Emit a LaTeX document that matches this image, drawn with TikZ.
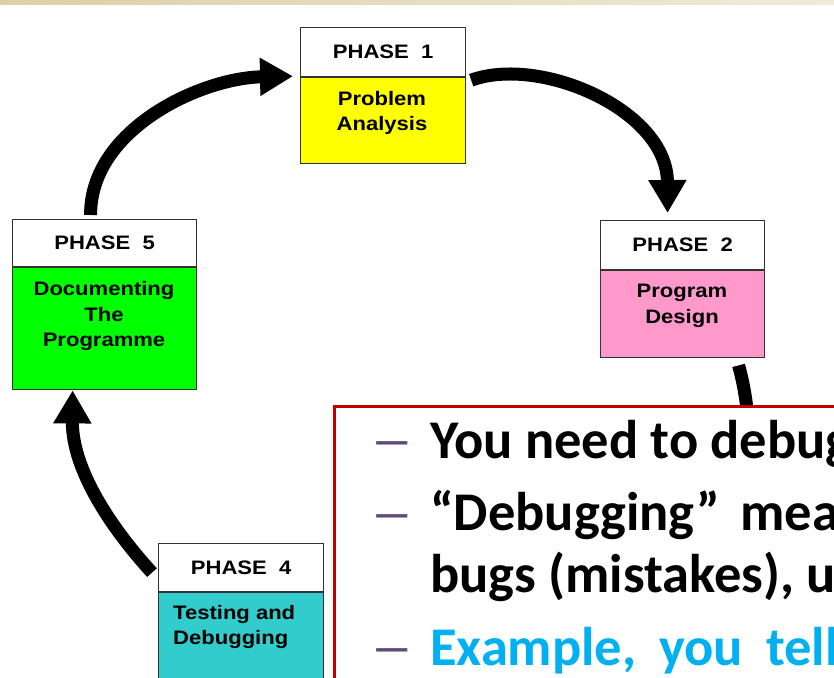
\documentclass[tikz,border=0pt]{standalone}
\usepackage{fontspec}
\usetikzlibrary{arrows.meta,calc}
\newfontfamily\arialfont{Liberation Sans}[FakeStretch=1.13]
\newfontfamily\califont{Carlito}
\definecolor{bandL}{HTML}{DCCFA8}
\definecolor{bandR}{HTML}{F1EAD8}
\definecolor{boxline}{HTML}{333333}
\definecolor{ph1}{HTML}{FFFF00}
\definecolor{ph2}{HTML}{FF99CC}
\definecolor{ph5}{HTML}{00FF00}
\definecolor{ph4}{HTML}{33CCCC}
\definecolor{redframe}{HTML}{C00000}
\definecolor{dashcol}{HTML}{604A7B}
\definecolor{bluetext}{HTML}{00B0F0}
\tikzset{
  hdr/.style={draw=boxline, line width=1.2pt, fill=white, anchor=north west, inner sep=0pt,
    minimum height=49pt, font=\arialfont\bfseries\fontsize{19.5}{25}\selectfont},
  bodybox/.style={draw=boxline, line width=1.2pt, anchor=north west, inner sep=0pt},
  bodytext/.style={inner sep=0pt, align=center, font=\arialfont\bfseries\fontsize{19.5}{25.5}\selectfont},
  cyclearrow/.style={line width=13pt, -{Triangle[length=33pt,width=36pt]}},
  bigtext/.style={inner sep=0pt, anchor=base west, font=\califont\bfseries\fontsize{54.5}{60}\selectfont},
  dashmark/.style={inner sep=0pt, anchor=base west, text=dashcol, font=\califont\fontsize{54.5}{60}\selectfont}
}
\begin{document}
\begin{tikzpicture}[x=1pt,y=-1pt]
\useasboundingbox (0,0) rectangle (834,677);
\clip (0,0) rectangle (834,677);
\fill[white] (0,0) rectangle (834,677);
\shade[left color=bandL, right color=bandR] (0,0) rectangle (834,5);

% Phase 1
\node[hdr, minimum width=165pt] (p1h) at (300,27) {PHASE\ \ 1};
\node[bodybox, fill=ph1, minimum width=165pt, minimum height=86pt] (p1b) at (p1h.south west) {};
\node[bodytext] (p1t) at (382,113) {Problem\\Analysis};

% Phase 2
\node[hdr, minimum width=164pt] (p2h) at (600,220) {PHASE\ \ 2};
\node[bodybox, fill=ph2, minimum width=164pt, minimum height=87pt] (p2b) at (p2h.south west) {};
\node[bodytext] (p2t) at (682,306) {Program\\Design};

% Phase 5
\node[hdr, minimum width=184pt, minimum height=47pt] (p5h) at (12,219) {PHASE\ \ 5};
\node[bodybox, fill=ph5, minimum width=184pt, minimum height=122pt] (p5b) at (p5h.south west) {};
\node[bodytext] (p5t) at (104,316) {Documenting\\The\\Programme};

% Phase 4
\node[hdr, minimum width=165pt, minimum height=48pt] (p4h) at (158,543) {PHASE\ \ 4};
\node[bodybox, fill=ph4, minimum width=165pt, minimum height=120pt] (p4b) at (p4h.south west) {};
\node[bodytext, align=left, anchor=north west] (p4t) at (173,605) {Testing and\\Debugging};

% Arrows
\draw[cyclearrow] ([xshift=-14pt,yshift=4pt]p5h.north) .. controls (90,130) and (200,78) .. ([xshift=-7pt,yshift=1pt]p1h.south west);
\draw[cyclearrow] ([xshift=5pt,yshift=-3pt]p1h.south east) .. controls (540,55) and (667,110) .. ([xshift=-15pt,yshift=7pt]p2h.north);
\coordinate (a3end) at (748,420);
\draw[line width=13pt] ([xshift=56pt,yshift=-7pt]p2b.south) .. controls (742,378) and (746,395) .. (a3end);
\draw[cyclearrow] ([xshift=-6pt,yshift=-5pt]p4h.west) .. controls (112,529) and (72,470) .. ([xshift=-32pt]p5b.south);

% Text panel
\node[draw=redframe, line width=2.5pt, fill=white, anchor=north west, minimum width=600pt, minimum height=400pt] (panel) at (333,405) {};
\node[dashmark] (d1) at (370,458) {\scalebox{1.6}[1]{–}};
\node[bigtext] (t1) at (430,458) {You need to debug};
\node[dashmark] (d2) at (370,531) {\scalebox{1.6}[1]{–}};
\node[bigtext] (t2) at (430,530) {“Debugging”\hspace{20pt}means};
\node[bigtext] (t3) at (430,592) {bugs (mistakes), using};
\node[dashmark] (d4) at (370,665) {\scalebox{1.6}[1]{–}};
\node[bigtext, text=bluetext] (t4) at (430,665) {Example,\hspace{23pt}you\hspace{23pt}tell};
\end{tikzpicture}
\end{document}
